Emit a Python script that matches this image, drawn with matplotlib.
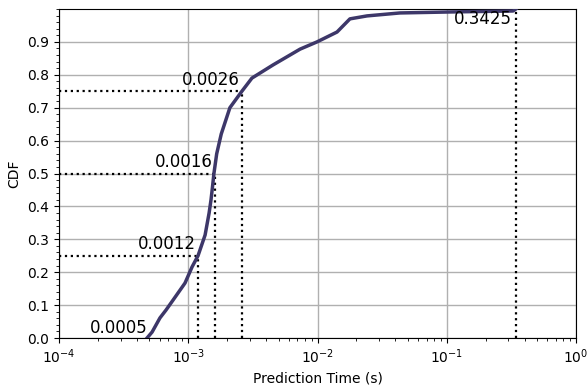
import matplotlib
matplotlib.use("Agg")
import matplotlib.pyplot as plt
from matplotlib.ticker import AutoMinorLocator

# CDF curve
times = [0.000480, 0.000525, 0.000604, 0.000673, 0.000762, 0.000944, 0.00107,
         0.00119, 0.00135, 0.00145, 0.00150, 0.00154, 0.00158, 0.00166, 0.00180,
         0.00210, 0.00260, 0.00311, 0.00453, 0.00612, 0.00733, 0.00991, 0.01416,
         0.01782, 0.02415, 0.0434, 0.106, 0.326, 0.3425]
cdf = [0.0, 0.018, 0.061, 0.085, 0.115, 0.167, 0.216,
       0.25, 0.313, 0.38, 0.42, 0.459, 0.50, 0.56, 0.62,
       0.70, 0.75, 0.79, 0.83, 0.86, 0.878, 0.90, 0.93,
       0.97, 0.979, 0.988, 0.991, 0.994, 1.0]

# percentile markers
pct_levels = [0.25, 0.5, 0.75]
pct_values = [0.0012, 0.0016, 0.0026]
pct_labels = ["0.0012", "0.0016", "0.0026"]
min_value, min_label = 0.0005, "0.0005"
max_value, max_label = 0.3425, "0.3425"

fig = plt.figure(figsize=(5.87, 3.85), dpi=100)
ax = fig.add_axes([59/587, 1 - 338/385, (576-59)/587, (338-9)/385])

ax.plot(times, cdf, color="#3d3769", lw=2.5, zorder=3)

xmin = 1e-4
for lvl, val, lab in zip(pct_levels, pct_values, pct_labels):
    ax.plot([xmin, val], [lvl, lvl], color="black", ls=":", lw=1.6, zorder=2)
    ax.plot([val, val], [0, lvl], color="black", ls=":", lw=1.6, zorder=2)
    ax.text(val * 0.96, lvl + 0.008, lab, ha="right", va="bottom", fontsize=12)

ax.plot([max_value, max_value], [0, 1.0], color="black", ls=":", lw=1.6, zorder=2)
ax.text(max_value * 0.93, 0.997, max_label, ha="right", va="top", fontsize=12)
ax.text(min_value * 0.97, 0.003, min_label, ha="right", va="bottom", fontsize=12)

ax.set_xscale("log")
ax.set_xlim(1e-4, 1e0)
ax.set_ylim(0, 1.0)
ax.set_yticks([i / 10 for i in range(10)])
ax.yaxis.set_minor_locator(AutoMinorLocator(5))
ax.grid(True, which="major", color="#b0b0b0", lw=1.0)
ax.set_axisbelow(True)
ax.set_xlabel("Prediction Time (s)", fontsize=10)
ax.set_ylabel("CDF", fontsize=10)
ax.tick_params(labelsize=10)

fig.savefig("out.png", dpi=100)
